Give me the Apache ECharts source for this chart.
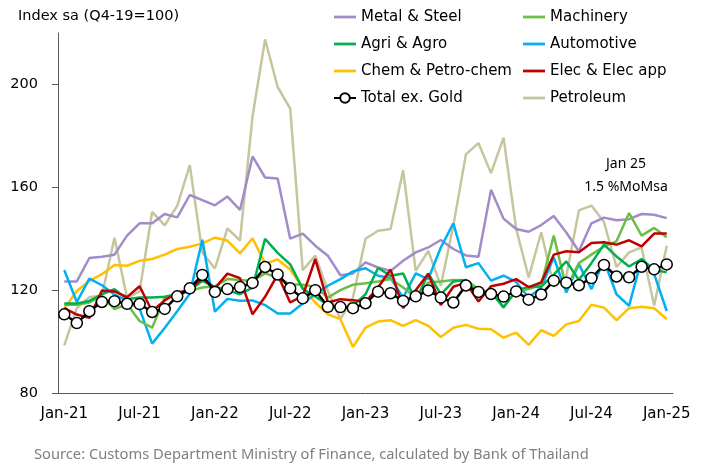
<!DOCTYPE html>
<html>
<head>
<meta charset="utf-8">
<script src="https://cdn.jsdelivr.net/npm/echarts@6/dist/echarts.min.js"></script>
<style>
  html, body { margin: 0; padding: 0; background: #fff; }
  #chart { width: 701px; height: 464px; }
</style>
</head>
<body>
<div id="chart"></div>
<script>
  // months Jan-21 .. Jan-25
  const months = ['Jan-21','Feb-21','Mar-21','Apr-21','May-21','Jun-21','Jul-21','Aug-21','Sep-21','Oct-21','Nov-21','Dec-21',
    'Jan-22','Feb-22','Mar-22','Apr-22','May-22','Jun-22','Jul-22','Aug-22','Sep-22','Oct-22','Nov-22','Dec-22',
    'Jan-23','Feb-23','Mar-23','Apr-23','May-23','Jun-23','Jul-23','Aug-23','Sep-23','Oct-23','Nov-23','Dec-23',
    'Jan-24','Feb-24','Mar-24','Apr-24','May-24','Jun-24','Jul-24','Aug-24','Sep-24','Oct-24','Nov-24','Dec-24',
    'Jan-25']
  const yTicks = [80, 120, 160, 200]

  const metalSteel = [123.4,123.4,132.5,133,133.8,141.2,146,146,149.6,148.3,157,155,153,156.4,151.2,172,163.8,163.4,140,142,137.3,133.4,125.8,126.5,
    130.8,128.8,127.5,131.4,134.7,136.6,139.5,136,133.5,133,159,147.8,143.8,142.7,145.3,148.8,142.4,135.1,146,148.2,147.2,147.6,149.6,149.3,148]
  const machinery = [114.3,114.3,115.2,117.8,112.6,114.5,108,105.4,117.1,117.8,119.7,121,121.5,124.3,123.9,123.6,126.5,124.9,122.3,122.1,121.3,117.1,120,122.1,
    122.7,123.4,124.3,121,117.1,123,123.4,123.9,123.8,120.5,119,113.6,119.5,120.4,122.1,141.2,120.8,130.5,133.8,137,139,150,141.2,144.2,140.6]
  const agriAgro = [114.8,114.8,115.8,118.4,120.4,116.5,117.1,117.1,117.4,118.4,120,123.6,121.3,120,118.4,121,140,134.5,130,120.5,117.5,114.3,112.6,113.9,
    118.4,128.6,125.6,126.5,115.8,126.5,118.4,123.4,123.9,118.4,119.5,113.2,120,121.2,121.4,126,131.2,124,130.5,137.7,133.1,129.2,132.1,127.9,126.9]
  const automotive = [127.8,115.4,124.5,121.9,118.3,115.9,112.8,99.2,105.3,111.8,118.6,139.6,111.6,116.6,115.9,116,114.2,110.9,110.9,114.8,118.4,121.7,124.3,127.3,
    128.5,125.6,124.7,117.1,126.5,124.3,136.6,146,128.9,130.5,123.7,125.6,123.2,117.1,121,132.7,119.1,130.1,120.4,131.4,118.4,113.9,132.1,126.2,111.9]
  const chemPetro = [112.8,119.7,123.6,126.2,129.8,129.5,131.4,132.1,133.8,136,136.9,138.2,140.4,139.3,134.3,140.2,130.3,131.9,128,121,115.2,110.6,108.7,97.9,
    105.4,107.8,108.3,106.1,108.3,106.1,101.8,105.4,106.5,105,104.8,101.5,103.5,98.7,104.4,102.2,106.7,108,114.3,113.2,108.3,113,113.5,113,108.7]
  const elecApp = [113,110.5,109.2,119.9,119.5,117.3,121.5,111.8,116,119,120.2,124.6,120.7,126.4,124.7,110.6,117.4,126,115.2,117.8,132.1,115.2,116.5,116.1,
    115.5,121,128,113,120,126.4,114.2,121.3,122.9,115.6,121.5,122.5,124.3,121.2,123,133.8,135.1,134.7,138.3,138.6,137.7,139.4,137,142,142]
  const totalExGold = [110.6,107.2,111.8,115.4,115.7,114.7,114.6,111.5,112.7,117.6,120.7,125.9,119.3,120.4,121.2,122.8,129,126.1,120.7,116.8,120,113.5,113.4,113,
    114.9,119.4,118.8,115.8,117.6,119.9,117.1,115.2,121.8,119.3,118.5,117.5,119.5,116.3,118.3,123.7,122.9,121.9,124.7,129.8,125.3,125,129.1,128.1,130]
  const petroleum = [98.5,113,117.3,117.8,140.4,117,119.5,150.4,145.2,152.8,168.6,134.6,128.4,144,139.3,187.6,217.5,199,190.6,127.8,133.4,119.7,108.7,117.1,
    140,143.1,143.8,166.6,127.5,135.3,121.7,145.1,172.8,177.2,165.5,179.3,144,124.9,142.5,121.5,125.5,151,152.9,146.5,129,134.7,136.6,114,137.3]

  const font = 'DejaVu Sans'
  const barIcon = 'path://M0,0L24,0L24,3L0,3Z'
  const chart = echarts.init(document.getElementById('chart'))

  function line(name, data, color) {
    return {
      name: name,
      type: 'line',
      data: data,
      symbol: 'none',
      lineStyle: { color: color, width: 2.5 },
      itemStyle: { color: color },
      emphasis: { disabled: true }
    }
  }

  function legendItem(name) {
    return name === 'Total ex. Gold' ? { name: name } : { name: name, icon: barIcon }
  }

  const legendText = { fontSize: 15, color: '#000', fontFamily: font, lineHeight: 18 }

  chart.setOption({
    animation: false,
    textStyle: { fontFamily: font, color: '#000' },
    title: [
      { text: 'Index sa (Q4-19=100)', left: 13, top: 4, textStyle: { fontSize: 14.5, fontWeight: 'normal', color: '#000', fontFamily: font } },
      { text: 'Source: Customs Department Ministry of Finance, calculated by Bank of Thailand', left: 29, top: 442,
        textStyle: { fontSize: 14.7, fontWeight: 'normal', color: '#7f7f7f', fontFamily: 'Noto Sans' } }
    ],
    graphic: [
      { type: 'text', x: 626, y: 153, style: { text: 'Jan 25\n1.5 %MoMsa', textAlign: 'center', fill: '#000',
        font: '14px "Noto Sans"', lineHeight: 23 } }
    ],
    legend: [
      { left: 328, top: 3, orient: 'vertical', itemWidth: 22, itemHeight: 12, itemGap: 9,
        data: ['Metal & Steel', 'Agri & Agro', 'Chem & Petro-chem', 'Total ex. Gold'].map(legendItem),
        textStyle: legendText },
      { left: 518, top: 3, orient: 'vertical', itemWidth: 22, itemHeight: 12, itemGap: 9,
        data: ['Machinery', 'Automotive', 'Elec & Elec app', 'Petroleum'].map(legendItem),
        textStyle: legendText }
    ],
    grid: { left: 58, right: 28, top: 33, bottom: 71, outerBoundsMode: 'none' },
    xAxis: {
      type: 'category',
      data: months,
      boundaryGap: true,
      axisLine: { lineStyle: { color: '#595959', width: 1 } },
      axisTick: { interval: 2, length: 6, lineStyle: { color: '#595959' } },
      axisLabel: { interval: 5, fontSize: 15, color: '#000', margin: 14 }
    },
    yAxis: {
      type: 'value',
      min: 80,
      max: 220,
      interval: 40,
      splitLine: { show: false },
      axisLine: { show: true, lineStyle: { color: '#595959', width: 1 } },
      axisTick: { show: true, length: 6, customValues: yTicks, lineStyle: { color: '#595959' } },
      axisLabel: { fontSize: 14.5, color: '#000', margin: 20, customValues: yTicks }
    },
    series: [
      line('Petroleum', petroleum, '#C5C59E'),
      line('Metal & Steel', metalSteel, '#A28BC9'),
      line('Chem & Petro-chem', chemPetro, '#FFC000'),
      line('Automotive', automotive, '#00B0F0'),
      line('Machinery', machinery, '#6DBE45'),
      line('Agri & Agro', agriAgro, '#00B050'),
      line('Elec & Elec app', elecApp, '#C00000'),
      {
        name: 'Total ex. Gold',
        type: 'line',
        data: totalExGold,
        symbol: 'circle',
        symbolSize: 11,
        showAllSymbol: true,
        lineStyle: { color: '#000', width: 2.5 },
        itemStyle: { color: '#fff', borderColor: '#000', borderWidth: 1.5 },
        emphasis: { disabled: true },
        z: 5
      }
    ]
  })
</script>
</body>
</html>
